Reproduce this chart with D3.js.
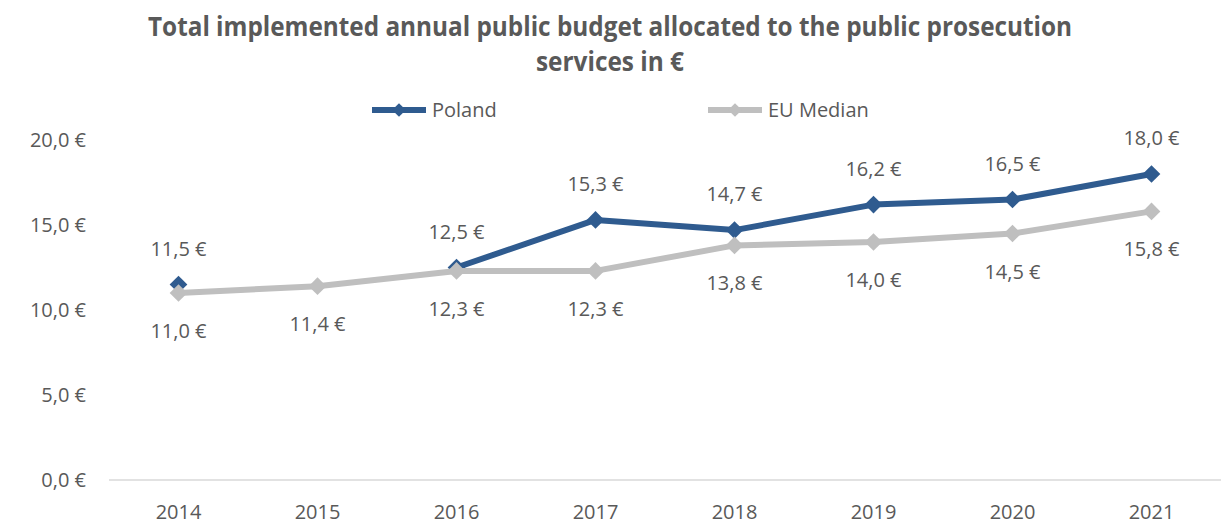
<!DOCTYPE html>
<html lang="en">
<head>
  <meta charset="UTF-8">
  <title>Public prosecution budget</title>
  <script src="https://cdn.jsdelivr.net/npm/d3@7"></script>
  <style>
    body { margin: 0; background: #fff; }
    text { font-family: "Open Sans", sans-serif; fill: #595959; }
  </style>
</head>
<body>
  <svg width="1228" height="528"></svg>
<script>
  const years = ["2014", "2015", "2016", "2017", "2018", "2019", "2020", "2021"];
  const poland = [11.5, null, 12.5, 15.3, 14.7, 16.2, 16.5, 18.0];
  const euMedian = [11.0, 11.4, 12.3, 12.3, 13.8, 14.0, 14.5, 15.8];
  const yTicks = [0, 5, 10, 15, 20];

  const svg = d3.select("svg");
  const fmt = v => d3.format(".1f")(v).replace(".", ",") + " €";

  const x = d3.scaleBand().domain(years).range([109, 1221]);
  const y = d3.scaleLinear().domain([0, 20]).range([480, 140]);

  // title
  const title = svg.append("text")
    .attr("text-anchor", "middle")
    .attr("font-size", "26px")
    .attr("font-weight", "bold");
  title.append("tspan").attr("x", 610).attr("y", 36)
    .attr("textLength", 924).attr("lengthAdjust", "spacingAndGlyphs")
    .text("Total implemented annual public budget allocated to the public prosecution");
  title.append("tspan").attr("x", 610).attr("y", 71)
    .attr("textLength", 148).attr("lengthAdjust", "spacingAndGlyphs")
    .text("services in €");

  // y axis labels
  svg.append("g").selectAll("text")
    .data(yTicks)
    .join("text")
    .attr("x", 86)
    .attr("y", d => y(d))
    .attr("dy", "0.35em")
    .attr("text-anchor", "end")
    .attr("font-size", "20px")
    .text(fmt);

  // baseline
  svg.append("line")
    .attr("x1", 109).attr("x2", 1221)
    .attr("y1", y(0)).attr("y2", y(0))
    .attr("stroke", "#d9d9d9").attr("stroke-width", 1.5);

  // x labels
  svg.append("g").selectAll("text")
    .data(years)
    .join("text")
    .attr("x", d => x(d) + x.bandwidth() / 2)
    .attr("y", 519)
    .attr("text-anchor", "middle")
    .attr("font-size", "20px")
    .text(d => d);

  const series = [
    { name: "Poland", values: poland, color: "#2f5b8f", dy: -36, legendX: 372 },
    { name: "EU Median", values: euMedian, color: "#bfbfbf", dy: 38, legendX: 708 }
  ];

  const diamond = d3.symbol().type(d3.symbolDiamond2).size(200);

  series.forEach(s => {
    const pts = years.map((yr, i) => ({ yr, v: s.values[i] }));
    const line = d3.line()
      .defined(d => d.v != null)
      .x(d => x(d.yr) + x.bandwidth() / 2)
      .y(d => y(d.v));

    svg.append("path")
      .datum(pts)
      .attr("d", line)
      .attr("fill", "none")
      .attr("stroke", s.color)
      .attr("stroke-width", 6)
      .attr("stroke-linejoin", "round");

    svg.append("g").selectAll("path")
      .data(pts.filter(d => d.v != null))
      .join("path")
      .attr("d", diamond)
      .attr("transform", d => `translate(${x(d.yr) + x.bandwidth() / 2},${y(d.v)})`)
      .attr("fill", s.color);

    svg.append("g").selectAll("text")
      .data(pts.filter(d => d.v != null))
      .join("text")
      .attr("x", d => x(d.yr) + x.bandwidth() / 2)
      .attr("y", d => y(d.v) + s.dy)
      .attr("dy", "0.35em")
      .attr("text-anchor", "middle")
      .attr("font-size", "20px")
      .text(d => fmt(d.v));

    // legend
    const lg = svg.append("g");
    lg.append("line")
      .attr("x1", s.legendX).attr("x2", s.legendX + 54)
      .attr("y1", 110).attr("y2", 110)
      .attr("stroke", s.color).attr("stroke-width", 6);
    lg.append("path")
      .attr("d", d3.symbol().type(d3.symbolDiamond2).size(120))
      .attr("transform", `translate(${s.legendX + 27},110)`)
      .attr("fill", s.color);
    lg.append("text")
      .attr("x", s.legendX + 60)
      .attr("y", 110)
      .attr("dy", "0.35em")
      .attr("font-size", "20px")
      .text(s.name);
  });
</script>
</body>
</html>
